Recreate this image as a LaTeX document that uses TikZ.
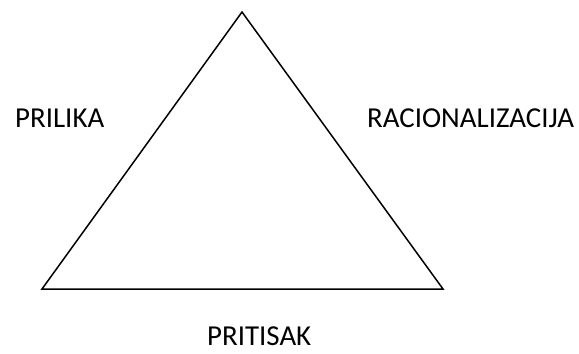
\documentclass[tikz,border=0pt]{standalone}
\usepackage{fontspec}
\setmainfont{Carlito}
\begin{document}
\begin{tikzpicture}[x=1bp,y=-1bp,
  lbl/.style={anchor=base west,inner sep=0pt,text depth=0pt,font=\fontsize{29}{33}\selectfont},
  edge/.style={line width=1.5bp,line join=miter}]
\useasboundingbox (0,0) rectangle (579,353);
\coordinate (top) at (242,12);
\coordinate (bl) at (42,289);
\coordinate (br) at (443,289);
\draw[edge] (top) -- (bl) -- (br) -- cycle;
\node[lbl] (prilika) at (15,127) {PRILIKA};
\node[lbl] (rac) at (367,127) {RACIONALIZACIJA};
\node[lbl] (pritisak) at (207,345) {PRITISAK};
\end{tikzpicture}
\end{document}
